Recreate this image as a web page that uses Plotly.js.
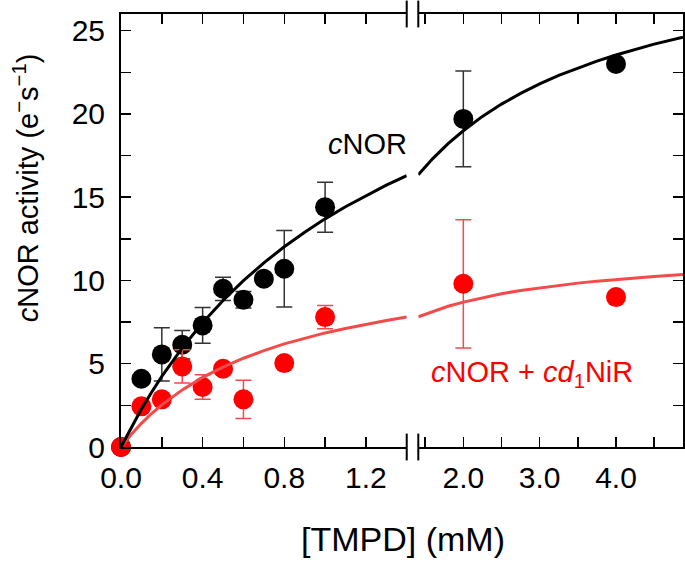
<!DOCTYPE html>
<html>
<head>
<meta charset="utf-8">
<script src="https://cdn.plot.ly/plotly-3.0.1.min.js"></script>
<style>
  html, body { margin: 0; padding: 0; background: #fff; }
  #grafica { width: 685px; height: 563px; }
</style>
</head>
<body>
<div id="grafica"></div>
<script>
// datos medidos - cNOR sola (parte izquierda del eje roto)
var tmpdBajo = [0, 0.1, 0.2, 0.3, 0.4, 0.5, 0.6, 0.7, 0.8, 1.0];
var cnorBajo = [0, 4.1, 5.56, 6.14, 7.3, 9.5, 8.84, 10.1, 10.7, 14.4];
var cnorBajoErr = [0, 0, 1.6, 0.86, 1.07, 0.7, 0.5, 0, 2.3, 1.5];

// parte derecha
var tmpdAlto = [2.0, 4.0];
var cnorAlto = [19.7, 23.0];
var cnorAltoErr = [2.87, 0];

// cNOR + cd1NiR
var tmpdBajoRojo = [0, 0.1, 0.2, 0.3, 0.4, 0.5, 0.6, 0.8, 1.0];
var mezclaBajo = [0, 2.44, 2.86, 4.84, 3.6, 4.7, 2.86, 5.04, 7.8];
var mezclaBajoErr = [0, 0, 0, 1.0, 0.74, 0.3, 1.15, 0, 0.7];
var mezclaAlto = [9.8, 9.0];
var mezclaAltoErr = [3.85, 0];

// curvas de ajuste
var ajusteXBajo = [0, 0.05, 0.1, 0.15, 0.2, 0.3, 0.4, 0.5, 0.6, 0.7, 0.8, 0.9, 1.0, 1.1, 1.2, 1.3, 1.4];
var ajusteCnorBajo = [0, 1.18, 2.28, 3.29, 4.24, 5.95, 7.46, 8.80, 9.99, 11.06, 12.02, 12.90, 13.70, 14.43, 15.10, 15.72, 16.29];
var ajusteMezclaBajo = [0, 0.75, 1.42, 2.01, 2.53, 3.43, 4.18, 4.80, 5.33, 5.79, 6.19, 6.54, 6.85, 7.12, 7.37, 7.60, 7.80];
var ajusteXAlto = [1.41, 1.6, 1.8, 2.0, 2.25, 2.5, 2.75, 3.0, 3.25, 3.5, 3.75, 4.0, 4.25, 4.5, 4.878];
var ajusteCnorAlto = [16.35, 17.32, 18.21, 18.99, 19.85, 20.59, 21.23, 21.80, 22.31, 22.76, 23.17, 23.54, 23.88, 24.19, 24.60];
var ajusteMezclaAlto = [7.82, 8.15, 8.45, 8.70, 8.97, 9.20, 9.40, 9.56, 9.71, 9.84, 9.96, 10.06, 10.16, 10.24, 10.36];

// ticks (con etiqueta) y ticks menores
var ticksXBajo = [0, 0.4, 0.8, 1.2];
var etiquetasXBajo = ['0.0', '0.4', '0.8', '1.2'];
var menoresXBajo = [0.2, 0.6, 1.0, 1.4];
var ticksXAlto = [2.0, 3.0, 4.0];
var etiquetasXAlto = ['2.0', '3.0', '4.0'];
var menoresXAlto = [1.5, 2.5, 3.5, 4.5];
var ticksY = [0, 5, 10, 15, 20, 25];
var etiquetasY = ['0', '5', '10', '15', '20', '25'];
var menoresY = [2.5, 7.5, 12.5, 17.5, 22.5];

var NEGRO = '#000000';
var ROJO = '#ff0000';
var ROJO_LINEA = '#f34a4a';
var fuente = 'Liberation Sans, Arial, sans-serif';

function puntos(x, y, err, color, colorErr, ejeX) {
    return {
        x: x, y: y, xaxis: ejeX, yaxis: ejeX == 'x' ? 'y' : 'y2',
        type: 'scatter', mode: 'markers', cliponaxis: false,
        marker: { size: 20, color: color },
        error_y: { type: 'data', array: err, visible: true, color: colorErr, thickness: 1.5, width: 8 },
        hoverinfo: 'x+y', showlegend: false
    };
}

function linea(x, y, color, ejeX) {
    return {
        x: x, y: y, xaxis: ejeX, yaxis: ejeX == 'x' ? 'y' : 'y2',
        type: 'scatter', mode: 'lines', cliponaxis: false,
        line: { color: color, width: 3 },
        hoverinfo: 'skip', showlegend: false
    };
}

var data = [
    puntos(tmpdBajo, cnorBajo, cnorBajoErr, NEGRO, '#333333', 'x'),
    puntos(tmpdAlto, cnorAlto, cnorAltoErr, NEGRO, '#333333', 'x2'),
    puntos(tmpdBajoRojo, mezclaBajo, mezclaBajoErr, ROJO, ROJO_LINEA, 'x'),
    puntos(tmpdAlto, mezclaAlto, mezclaAltoErr, ROJO, ROJO_LINEA, 'x2'),
    linea(ajusteXBajo, ajusteMezclaBajo, ROJO_LINEA, 'x'),
    linea(ajusteXAlto, ajusteMezclaAlto, ROJO_LINEA, 'x2'),
    linea(ajusteXBajo, ajusteCnorBajo, NEGRO, 'x'),
    linea(ajusteXAlto, ajusteCnorAlto, NEGRO, 'x2')
];

function menores(vals) {
    return { tickmode: 'array', tickvals: vals, ticks: 'inside', ticklen: 10, tickwidth: 1.5, tickcolor: '#000', showgrid: false };
}

var ejeComun = {
    showline: true, linecolor: '#000', linewidth: 2,
    ticks: 'inside', ticklen: 10, tickwidth: 1.5, tickcolor: '#000',
    showgrid: false, zeroline: false, tickmode: 'array',
    tickfont: { family: fuente, size: 30, color: '#000' }
};

var corteIzq = 0.5084;
var corteDer = 0.529;

// marcas del corte del eje x (dos lineas arriba y abajo)
var formas = [];
[corteIzq, corteDer].forEach(function(xp) {
    formas.push({ type: 'line', xref: 'paper', yref: 'paper', x0: xp, x1: xp, y0: -0.031, y1: 0.031, line: { color: '#000', width: 2 } });
    formas.push({ type: 'line', xref: 'paper', yref: 'paper', x0: xp, x1: xp, y0: 0.969, y1: 1.031, line: { color: '#000', width: 2 } });
});

var layout = {
    width: 685, height: 563,
    margin: { l: 121, r: 2, t: 14, b: 116 },
    paper_bgcolor: '#fff', plot_bgcolor: '#fff',
    font: { family: fuente, color: '#000' },
    xaxis: Object.assign({}, ejeComun, {
        domain: [0, corteIzq], range: [0, 1.4], anchor: 'y', mirror: 'ticks',
        tickvals: ticksXBajo, ticktext: etiquetasXBajo, minor: menores(menoresXBajo),
        ticklabelstandoff: 3
    }),
    xaxis2: Object.assign({}, ejeComun, {
        domain: [corteDer, 1], range: [1.41, 4.878], anchor: 'y2', mirror: 'ticks',
        tickvals: ticksXAlto, ticktext: etiquetasXAlto, minor: menores(menoresXAlto),
        ticklabelstandoff: 3
    }),
    yaxis: Object.assign({}, ejeComun, {
        range: [0, 26], anchor: 'x',
        tickvals: ticksY, ticktext: etiquetasY, minor: menores(menoresY),
        ticklabelstandoff: 8
    }),
    yaxis2: Object.assign({}, ejeComun, {
        range: [0, 26], anchor: 'x2', side: 'right', matches: 'y',
        tickvals: ticksY, showticklabels: false, minor: menores(menoresY)
    }),
    shapes: formas,
    annotations: [
        {
            text: '<i>c</i>NOR', xref: 'paper', yref: 'paper',
            x: (367.5 - 121) / 562, y: (446.7 - 144) / 433, xanchor: 'center', yanchor: 'middle',
            showarrow: false, font: { family: fuente, size: 29, color: NEGRO }
        },
        {
            text: '<i>c</i>NOR + <i>cd</i><sub>1</sub>NiR', xref: 'paper', yref: 'paper',
            x: (531.5 - 121) / 562, y: (446.7 - 374) / 433, xanchor: 'center', yanchor: 'middle',
            showarrow: false, font: { family: fuente, size: 29, color: ROJO }
        },
        {
            text: '[TMPD] (mM)', xref: 'paper', yref: 'paper',
            x: (403 - 121) / 562, y: (446.7 - 539) / 433, xanchor: 'center', yanchor: 'middle',
            showarrow: false, font: { family: fuente, size: 34, color: '#000' }
        },
        {
            text: '<i>c</i>NOR activity (e<sup>\u2212</sup>s<sup>\u22121</sup>)', xref: 'paper', yref: 'paper',
            x: (26 - 121) / 562, y: (446.7 - 188) / 433, xanchor: 'center', yanchor: 'middle',
            textangle: -90, showarrow: false, font: { family: fuente, size: 29, color: '#000' }
        }
    ]
};

Plotly.newPlot('grafica', data, layout, { displayModeBar: false, staticPlot: true });
</script>
</body>
</html>
